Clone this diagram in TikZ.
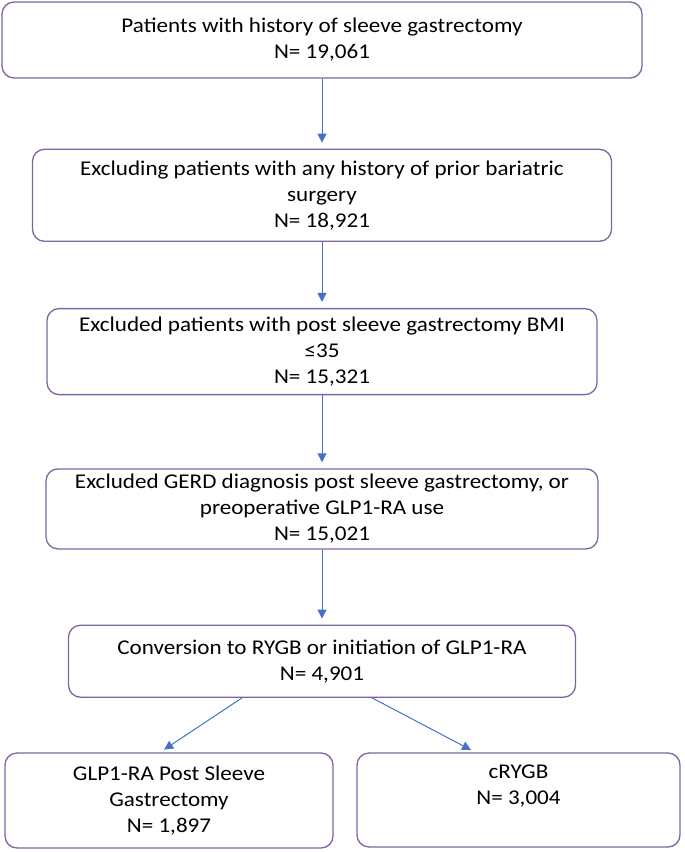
\documentclass[tikz,border=0pt]{standalone}
\usepackage{fontspec}
\setmainfont[FakeStretch=1.1]{Carlito}
\usetikzlibrary{arrows.meta,positioning}
\definecolor{boxpurple}{RGB}{128,100,162}
\definecolor{arrowblue}{RGB}{68,114,196}

\begin{document}
\begin{tikzpicture}[x=1pt,y=1pt,node distance=70pt,
  every node/.style={font=\fontsize{21}{26}\selectfont,align=center},
  box/.style={draw=boxpurple,line width=1.3pt,rounded corners=12pt,inner sep=0pt},
  flow/.style={-{Triangle[width=9pt,length=9pt]},arrowblue,line width=1pt,shorten >=6pt}]
\useasboundingbox (0,0) rectangle (685,-852);
\node[box,minimum width=640pt,minimum height=76pt] (hx) at (322,-40) {Patients with history of sleeve gastrectomy\\N= 19,061};
\node[box,minimum width=579pt,minimum height=92pt,below=70pt of hx] (prior) {Excluding patients with any history of prior bariatric\\surgery\\N= 18,921};
\node[box,minimum width=550pt,minimum height=86pt,below=66pt of prior] (bmi) {Excluded patients with post sleeve gastrectomy BMI\\≤35\\N= 15,321};
\node[box,minimum width=552pt,minimum height=80pt,below=73pt of bmi] (gerd) {Excluded GERD diagnosis post sleeve gastrectomy, or\\preoperative GLP1-RA use\\N= 15,021};
\node[box,minimum width=507pt,minimum height=72pt,below=75pt of gerd] (conv) {Conversion to RYGB or initiation of GLP1-RA\\N= 4,901};
\node[box,minimum width=328pt,minimum height=95pt] (glp) at (169,-800.5) {GLP1-RA Post Sleeve\\Gastrectomy\\N= 1,897};
\node[box,minimum width=323pt,minimum height=94pt,text depth=30pt] (rygb) at (518.5,-800) {cRYGB\\N= 3,004};
\draw[flow] (hx)--(prior); \draw[flow] (prior)--(bmi); \draw[flow] (bmi)--(gerd); \draw[flow] (gerd)--(conv);
\draw[flow,shorten >=5pt] ([xshift=-80pt]conv.south)--([xshift=-9pt]glp.north);
\draw[flow,shorten >=5pt] ([xshift=50pt]conv.south)--([xshift=-43pt]rygb.north);
\end{tikzpicture}
\end{document}
